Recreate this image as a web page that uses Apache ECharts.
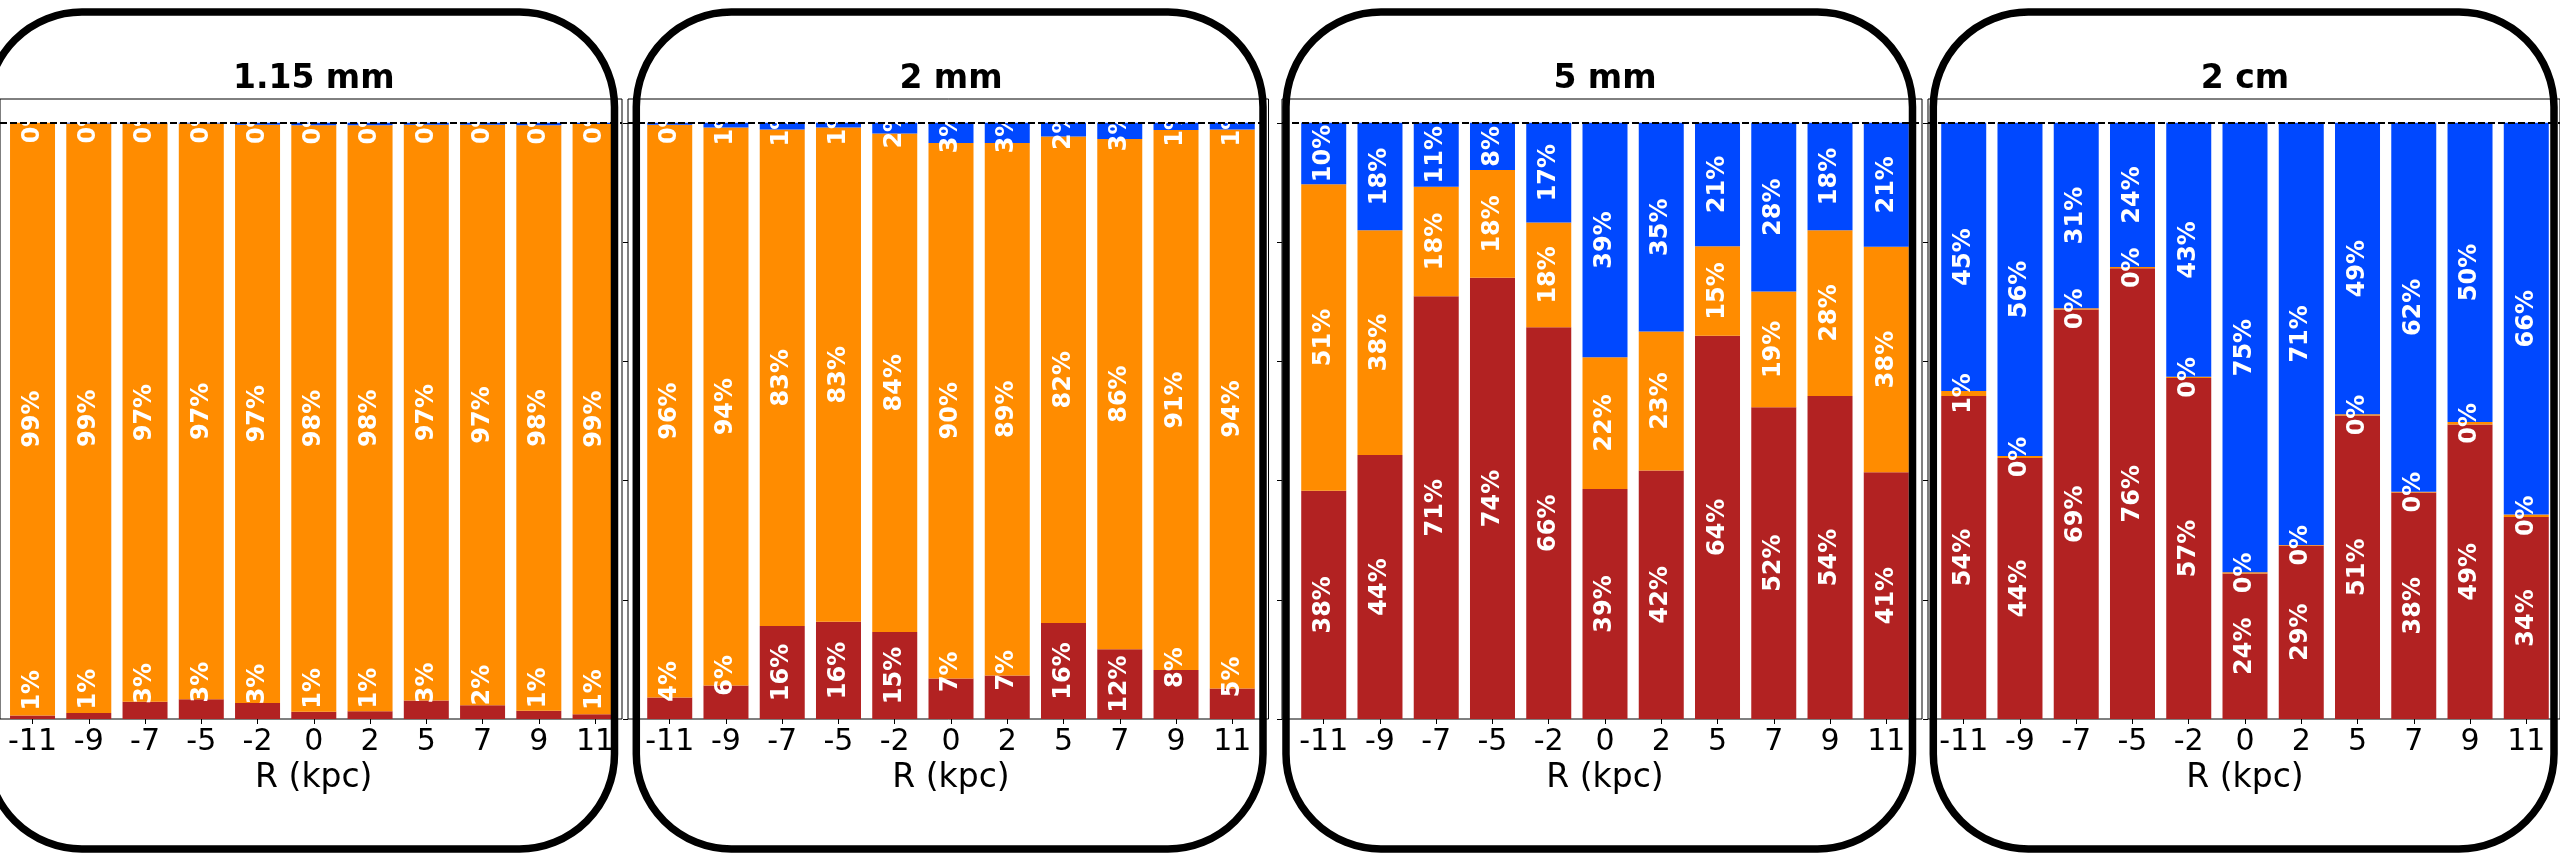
<!DOCTYPE html>
<html><head><meta charset="utf-8">
<script src="https://cdn.jsdelivr.net/npm/echarts@6/dist/echarts.min.js"></script>
<style>html,body{margin:0;padding:0;background:#fff;overflow:hidden}#c{width:2560px;height:857px;}</style>
</head><body><div id="c"></div>
<script>
// ---------- data ----------
const categories = ['-11','-9','-7','-5','-2','0','2','5','7','9','11'];
const panelTitles = ['1.15 mm','2 mm','5 mm','2 cm'];
const xAxisTitle = 'R (kpc)';
const yTickValues = [0,20,40,60,80,100];
const seriesNames = ['Bottom component','Middle component','Top component'];

const red_115mm    = [0.6, 1.0, 2.9, 3.3, 2.7, 1.2, 1.3, 3.1, 2.3, 1.4, 0.8];
const orange_115mm = [99.4, 98.9, 97.0, 96.6, 97.0, 98.4, 98.3, 96.6, 97.4, 98.2, 99.0];
const blue_115mm   = [0.0, 0.1, 0.1, 0.1, 0.3, 0.4, 0.4, 0.3, 0.3, 0.4, 0.2];

const red_2mm    = [3.6, 5.6, 15.6, 16.3, 14.6, 6.8, 7.3, 16.1, 11.7, 8.2, 5.1];
const orange_2mm = [96.1, 93.6, 83.3, 82.9, 83.6, 89.8, 89.3, 81.6, 85.6, 90.6, 93.8];
const blue_2mm   = [0.3, 0.8, 1.1, 0.8, 1.8, 3.4, 3.4, 2.3, 2.7, 1.2, 1.1];

const red_5mm    = [38.3, 44.3, 70.9, 74.0, 65.7, 38.6, 41.7, 64.3, 52.3, 54.2, 41.4];
const orange_5mm = [51.4, 37.7, 18.4, 18.1, 17.6, 22.1, 23.3, 15.0, 19.4, 27.8, 37.8];
const blue_5mm   = [10.3, 18.0, 10.7, 7.9, 16.7, 39.3, 35.0, 20.7, 28.3, 18.0, 20.8];

const red_2cm    = [54.2, 43.8, 68.7, 75.6, 57.2, 24.4, 29.1, 50.9, 38.0, 49.4, 33.9];
const orange_2cm = [0.8, 0.3, 0.2, 0.2, 0.2, 0.2, 0.1, 0.2, 0.1, 0.4, 0.4];
const blue_2cm   = [45.0, 55.9, 31.1, 24.2, 42.6, 75.4, 70.8, 48.9, 61.9, 50.2, 65.7];

const panelData = [
  [red_115mm, orange_115mm, blue_115mm],
  [red_2mm, orange_2mm, blue_2mm],
  [red_5mm, orange_5mm, blue_5mm],
  [red_2cm, orange_2cm, blue_2cm]
];

// ---------- layout / style ----------
const colors = ['#B22222', '#FF8C00', '#0048FF'];
const L = {
  top: 99, height: 620, yMax: 104,
  dataLeft: [4.4, 641.6, 1295.6, 1935.6], dataWidth: 618.8,
  frameLeft: [-10, 628, 1282, 1928], frameRight: [622, 1268.5, 1922, 2569],
  rectLeft: [-13, 636.3, 1286, 1933.3], rectRight: [614.5, 1263, 1912.5, 2554],
  rectTop: 12, rectBottom: 849, rectR: 95, rectLW: 7.5,
  titleY: 79.5
};
const smallLabelOffset = [27, 0]; // moves rotated label upward
const FONT = '"DejaVu Sans", "Liberation Sans", sans-serif';

const grid = [], xAxis = [], yAxis = [], series = [], graphic = [];

panelData.forEach((sets, p) => {
  const gF = 2 * p, gD = 2 * p + 1;
  grid.push({left: L.frameLeft[p], width: L.frameRight[p] - L.frameLeft[p], top: L.top, height: L.height,
             show: true, borderColor: '#000', borderWidth: 1, backgroundColor: 'transparent'});
  grid.push({left: L.dataLeft[p], width: L.dataWidth, top: L.top, height: L.height});

  xAxis.push({gridIndex: gF, type: 'value', min: 0, max: 1, show: false});
  yAxis.push({gridIndex: gF, type: 'value', min: 0, max: L.yMax,
    axisLine: {show: false}, splitLine: {show: false}, axisLabel: {show: false},
    axisTick: {show: true, length: 5, customValues: yTickValues, lineStyle: {color: '#000', width: 1}}});

  xAxis.push({gridIndex: gD, type: 'category', data: categories,
    axisLine: {show: false}, splitLine: {show: false},
    axisTick: {show: true, alignWithLabel: true, interval: 0, length: 5, lineStyle: {color: '#000', width: 1}},
    axisLabel: {interval: 0, fontSize: 30, color: '#000', fontFamily: FONT, margin: 8},
    name: xAxisTitle, nameLocation: 'middle', nameGap: 41,
    nameTextStyle: {fontSize: 33, color: '#000', fontFamily: FONT}});
  yAxis.push({gridIndex: gD, type: 'value', min: 0, max: L.yMax, show: false});

  // dashed 100% reference line
  series.push({type: 'line', xAxisIndex: gF, yAxisIndex: gF, data: [], z: 10, silent: true,
    markLine: {silent: true, symbol: ['none', 'none'], label: {show: false}, animation: false,
      lineStyle: {color: '#000', type: [7, 3], width: 2}, data: [{yAxis: 100}]}});

  sets.forEach((arr, s) => {
    series.push({
      type: 'bar', name: seriesNames[s], stack: 'panel' + p,
      xAxisIndex: gD, yAxisIndex: gD, barWidth: '80%', z: 2,
      itemStyle: {color: colors[s]},
      emphasis: {disabled: true},
      data: arr.map(v => (s === 0 && Math.round(v) < 10)
        ? {value: v, label: {offset: smallLabelOffset}} : v),
      label: {show: true, position: 'inside', rotate: 90,
        formatter: d => Math.round(d.value) + '%',
        color: '#fff', fontWeight: 'bold', fontSize: 24, fontFamily: FONT}
    });
  });

  graphic.push({type: 'rect', silent: true, z: 100,
    shape: {x: L.rectLeft[p], y: L.rectTop, width: L.rectRight[p] - L.rectLeft[p],
            height: L.rectBottom - L.rectTop, r: L.rectR},
    style: {fill: 'none', stroke: '#000', lineWidth: L.rectLW}});
  graphic.push({type: 'text', silent: true, z: 100,
    x: L.dataLeft[p] + L.dataWidth / 2, y: L.titleY,
    style: {text: panelTitles[p], font: 'bold 33px ' + FONT, fill: '#000',
            textAlign: 'center', textVerticalAlign: 'middle', align: 'center', verticalAlign: 'middle'}});
});

const chart = echarts.init(document.getElementById('c'), null, {renderer: 'canvas', width: 2560, height: 857});
chart.setOption({animation: false, backgroundColor: '#fff', grid, xAxis, yAxis, series, graphic});
</script></body></html>
